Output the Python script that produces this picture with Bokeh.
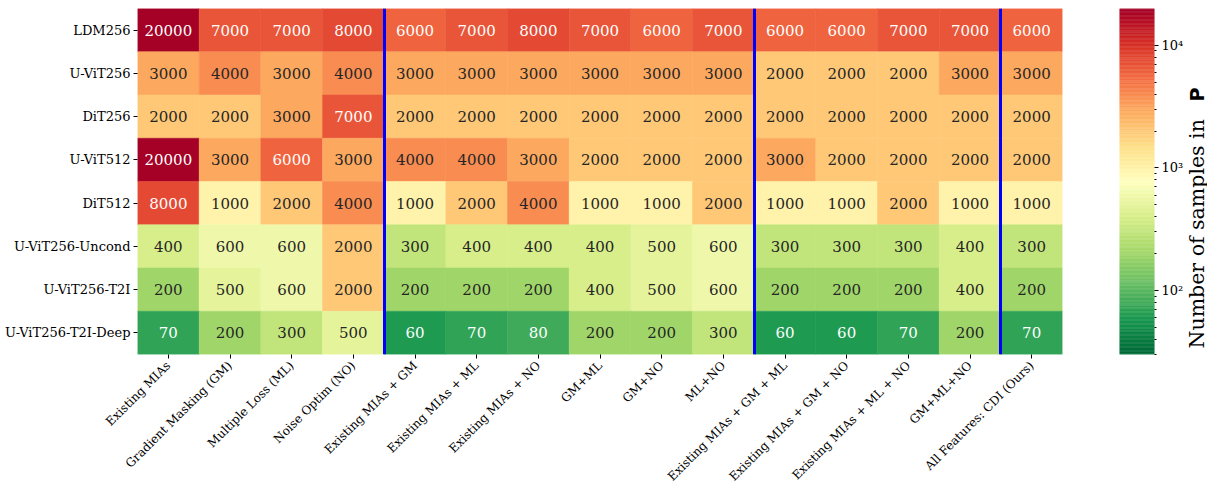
import numpy as np
from bokeh.plotting import figure
from bokeh.models import Range1d, FixedTicker, ColumnDataSource
from bokeh.layouts import row
from bokeh.transform import log_cmap
from bokeh.embed import file_html
from bokeh.resources import INLINE
from bokeh.core.properties import value

# ---------------- data ----------------
models = ["LDM256", "U-ViT256", "DiT256", "U-ViT512", "DiT512",
          "U-ViT256-Uncond", "U-ViT256-T2I", "U-ViT256-T2I-Deep"]
methods = ["Existing MIAs", "Gradient Masking (GM)", "Multiple Loss (ML)", "Noise Optim (NO)",
           "Existing MIAs + GM", "Existing MIAs + ML", "Existing MIAs + NO",
           "GM+ML", "GM+NO", "ML+NO",
           "Existing MIAs + GM + ML", "Existing MIAs + GM + NO", "Existing MIAs + ML + NO",
           "GM+ML+NO", "All Features: CDI (Ours)"]
group_sizes = [4, 6, 4, 1]

ldm256 = [20000, 7000, 7000, 8000, 6000, 7000, 8000, 7000, 6000, 7000, 6000, 6000, 7000, 7000, 6000]
uvit256 = [3000, 4000, 3000, 4000, 3000, 3000, 3000, 3000, 3000, 3000, 2000, 2000, 2000, 3000, 3000]
dit256 = [2000, 2000, 3000, 7000, 2000, 2000, 2000, 2000, 2000, 2000, 2000, 2000, 2000, 2000, 2000]
uvit512 = [20000, 3000, 6000, 3000, 4000, 4000, 3000, 2000, 2000, 2000, 3000, 2000, 2000, 2000, 2000]
dit512 = [8000, 1000, 2000, 4000, 1000, 2000, 4000, 1000, 1000, 2000, 1000, 1000, 2000, 1000, 1000]
uvit256_uncond = [400, 600, 600, 2000, 300, 400, 400, 400, 500, 600, 300, 300, 300, 400, 300]
uvit256_t2i = [200, 500, 600, 2000, 200, 200, 200, 400, 500, 600, 200, 200, 200, 400, 200]
uvit256_t2i_deep = [70, 200, 300, 500, 60, 70, 80, 200, 200, 300, 60, 60, 70, 200, 70]
table = [ldm256, uvit256, dit256, uvit512, dit512, uvit256_uncond, uvit256_t2i, uvit256_t2i_deep]

vmin, vmax = 30, 20000
cb_major = [100, 1000, 10000]
cb_major_labels = ["10²", "10³", "10⁴"]
cb_title = "Number of samples in"
cb_title_bold = "P"

# RdYlGn reversed palette, 256 steps
base = ['#006837', '#1a9850', '#66bd63', '#a6d96a', '#d9ef8b', '#ffffbf',
        '#fee08b', '#fdae61', '#f46d43', '#d73027', '#a50026']
base_rgb = np.array([[int(c[i:i + 2], 16) for i in (1, 3, 5)] for c in base], float)
N = 256
pos = np.linspace(0, 1, N) * (len(base) - 1)
rgb = np.stack([np.interp(pos, np.arange(len(base)), base_rgb[:, k]) for k in range(3)], axis=1)
palette = ["#%02x%02x%02x" % tuple(int(round(v)) for v in c) for c in rgb]


def cell_rgb(v):
    idx = int(np.floor((np.log(v) - np.log(vmin)) / (np.log(vmax) - np.log(vmin)) * N))
    idx = min(max(idx, 0), N - 1)
    return rgb[idx] / 255.0


def lum(c):
    c = np.where(c <= 0.03928, c / 12.92, ((c + 0.055) / 1.055) ** 2.4)
    return 0.2126 * c[0] + 0.7152 * c[1] + 0.0722 * c[2]


xs, ys, vs, labels, tcs = [], [], [], [], []
nrows = len(models)
for i, r in enumerate(table):
    for j, v in enumerate(r):
        xs.append(j)
        ys.append(nrows - 1 - i)
        vs.append(v)
        labels.append(str(v))
        tcs.append("#262626" if lum(cell_rgb(v)) > 0.36 else "#ffffff")

src = ColumnDataSource(dict(x=xs, y=ys, v=vs, label=labels, tc=tcs))

FONT = "DejaVu Serif"
FRAME_H = 346
TOP = 8

p1 = figure(frame_width=925, frame_height=FRAME_H,
            x_range=Range1d(-0.5, len(methods) - 0.5), y_range=Range1d(-0.5, nrows - 0.5),
            output_backend="svg", toolbar_location=None,
            min_border_left=137, min_border_top=TOP, min_border_right=13, min_border_bottom=10)
cmap = log_cmap("v", palette, vmin, vmax)
p1.rect(x="x", y="y", width=1, height=1, source=src, fill_color=cmap, line_color=cmap, line_width=0.5)
p1.text(x="x", y="y", text="label", text_color="tc", source=src,
        text_font=value(FONT), text_font_size="15px", text_align="center", text_baseline="middle")

bounds = list(np.cumsum(group_sizes)[:-1] - 0.5)
p1.vspan(x=bounds, line_color="#0000ff", line_width=3)

p1.xaxis.ticker = FixedTicker(ticks=list(range(len(methods))))
p1.xaxis.major_label_overrides = {i: m for i, m in enumerate(methods)}
p1.xaxis.major_label_orientation = np.pi / 4
p1.yaxis.ticker = FixedTicker(ticks=list(range(nrows)))
p1.yaxis.major_label_overrides = {nrows - 1 - i: m for i, m in enumerate(models)}
for ax in (p1.xaxis, p1.yaxis):
    ax.axis_line_color = None
    ax.major_tick_in = 0
    ax.major_tick_out = 4
    ax.minor_tick_out = 0
    ax.minor_tick_in = 0
    ax.major_label_text_font = FONT
    ax.major_label_text_color = "#000000"
    ax.major_tick_line_color = "#000000"
    ax.major_label_standoff = 3
p1.xaxis.major_label_text_font_size = "12px"
p1.xaxis.major_label_standoff = 5
p1.yaxis.major_label_text_font_size = "13px"
p1.grid.visible = False
p1.outline_line_color = None

# ---------------- colorbar ----------------
p2 = figure(frame_width=35, frame_height=FRAME_H, x_range=Range1d(0, 1), y_range=Range1d(vmin, vmax),
            y_axis_type="log", y_axis_location="right",
            output_backend="svg", toolbar_location=None,
            min_border_left=44, min_border_top=TOP, min_border_right=28, min_border_bottom=10)
edges = np.logspace(np.log10(vmin), np.log10(vmax), N + 1)
mids = np.sqrt(edges[:-1] * edges[1:])
csrc = ColumnDataSource(dict(b=edges[:-1], t=edges[1:], m=mids))
ccmap = log_cmap("m", palette, vmin, vmax)
p2.quad(left=0, right=1, bottom="b", top="t", source=csrc, fill_color=ccmap, line_color=ccmap, line_width=0.5)
minor = [m * 10 ** e for e in (1, 2, 3) for m in range(2, 10) if vmin <= m * 10 ** e <= vmax]
p2.yaxis.ticker = FixedTicker(ticks=cb_major, minor_ticks=minor)
p2.yaxis.major_label_overrides = {t: l for t, l in zip(cb_major, cb_major_labels)}
p2.yaxis.axis_line_color = None
p2.yaxis.major_tick_in = 0
p2.yaxis.major_tick_out = 4
p2.yaxis.minor_tick_in = 0
p2.yaxis.minor_tick_out = 2
p2.yaxis.major_label_text_font = FONT
p2.yaxis.major_label_text_font_size = "13px"
p2.yaxis.major_label_text_color = "#000000"
p2.yaxis.major_label_standoff = 3
p2.xaxis.visible = False
p2.grid.visible = False
p2.outline_line_color = None

# ---------------- colorbar title (own strip) ----------------
p3 = figure(frame_width=22, frame_height=FRAME_H, x_range=Range1d(0, 22), y_range=Range1d(0, FRAME_H),
            output_backend="svg", toolbar_location=None,
            min_border_left=0, min_border_top=TOP, min_border_right=0, min_border_bottom=10)
p3.axis.visible = False
p3.grid.visible = False
p3.outline_line_color = None
p3.text(x=[10], y=[6], text=[cb_title], angle=np.pi / 2, text_align="left", text_baseline="middle",
        text_font=value(FONT), text_font_size="20.5px", text_color="#000000")
p3.text(x=[10], y=[267], text=[cb_title_bold], angle=np.pi / 2, text_align="right", text_baseline="middle",
        text_font=value("DejaVu Sans"), text_font_style="bold", text_font_size="19px", text_color="#000000")

layout = row(p1, p2, p3)
open("out.html", "w").write(file_html(layout, INLINE))
